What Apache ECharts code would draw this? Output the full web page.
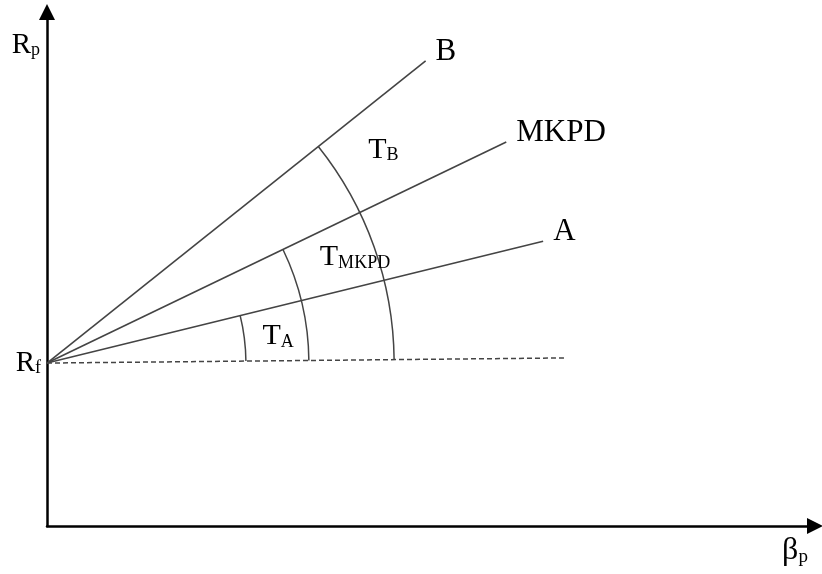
<!DOCTYPE html>
<html>
<head>
<meta charset="utf-8">
<title>Treynor</title>
<script src="https://cdn.jsdelivr.net/npm/echarts@6/dist/echarts.min.js"></script>
<style>
    html, body { margin: 0; padding: 0; background: #fff; }
    #chart { width: 822px; height: 574px; }
</style>
</head>
<body>
<div id="chart"></div>
<script>
// risk free point on the Rp axis
var rfPoint = [0, 3.17];
// portfolio lines, drawn from Rf
var lineNames = ['B', 'MKPD', 'A'];
var lineEndX = [4.93, 5.98, 6.46];
var lineEndY = [9.05, 7.47, 5.54];
// dashed base line
var baseEnd = [6.77, 3.27];
// angle arcs and their labels T_x
var arcNames = ['B', 'MKPD', 'A'];
var arcRadius = [4.52, 3.41, 2.59];
var arcLabelX = [4.38, 4.01, 3.01];
var arcLabelY = [7.32, 5.23, 3.70];

var serif = 'Liberation Serif';
var ink = '#000';
var gray = '#444';

function subRich(big, small) {
    return {
        t: { fontFamily: serif, fontSize: big, color: ink, verticalAlign: 'bottom' },
        s: { fontFamily: serif, fontSize: small, color: ink, verticalAlign: 'bottom' }
    };
}

var series = [];

lineNames.forEach(function (n, i) {
    series.push({
        type: 'line',
        name: n,
        data: [rfPoint, [lineEndX[i], lineEndY[i]]],
        symbol: 'none',
        lineStyle: { color: gray, width: 1.6 },
        endLabel: {
            show: true,
            formatter: n,
            distance: 10,
            offset: [0, -9],
            fontFamily: serif,
            fontSize: 31,
            color: ink
        },
        z: 3
    });
});

series.push({
    type: 'line',
    name: 'base',
    data: [rfPoint, baseEnd],
    symbol: 'none',
    lineStyle: { color: gray, width: 1.5, type: [5, 3] },
    z: 3
});

series.push({
    type: 'custom',
    name: 'arcs',
    data: arcRadius.map(function (r) { return [rfPoint[0], rfPoint[1], r]; }),
    encode: { x: 0, y: 1 },
    renderItem: function (params, api) {
        var i = params.dataIndex;
        var c = api.coord(rfPoint);
        var e = api.coord([lineEndX[i], lineEndY[i]]);
        var b = api.coord(baseEnd);
        var r = api.size([arcRadius[i], 0])[0];
        return {
            type: 'arc',
            shape: {
                cx: c[0], cy: c[1], r: r,
                startAngle: Math.atan2(e[1] - c[1], e[0] - c[0]),
                endAngle: Math.atan2(b[1] - c[1], b[0] - c[0]),
                clockwise: true
            },
            style: { stroke: gray, lineWidth: 1.5, fill: 'none' }
        };
    },
    z: 3
});

series.push({
    type: 'scatter',
    name: 'arcLabels',
    symbolSize: 0,
    itemStyle: { opacity: 1 },
    data: arcNames.map(function (n, i) {
        return { name: n, value: [arcLabelX[i], arcLabelY[i]] };
    }),
    label: {
        show: true,
        position: 'inside',
        color: ink,
        textBorderWidth: 0,
        formatter: function (p) { return '{t|T}{s|' + p.name + '}'; },
        rich: subRich(30, 18)
    },
    z: 4
});

series.push({
    type: 'scatter',
    name: 'rf',
    symbolSize: 0,
    itemStyle: { opacity: 1 },
    data: [rfPoint],
    label: {
        show: true,
        position: 'left',
        distance: 6,
        color: ink,
        textBorderWidth: 0,
        formatter: '{t|R}{s|f}',
        rich: subRich(29, 18)
    },
    z: 4
});

var axisLine = {
    show: true,
    onZero: false,
    symbol: ['none', 'triangle'],
    symbolSize: [16, 16],
    lineStyle: { color: '#000', width: 2.5 }
};

var option = {
    animation: false,
    backgroundColor: '#fff',
    grid: { left: 47, right: 7, top: 12, bottom: 48 },
    xAxis: {
        type: 'value', min: 0, max: 10,
        axisLine: axisLine,
        axisTick: { show: false },
        axisLabel: { show: false },
        splitLine: { show: false },
        name: '{t|β}{s|p}',
        nameLocation: 'end',
        nameGap: -20,
        nameTextStyle: {
            align: 'center',
            verticalAlign: 'top',
            padding: [9, 0, 0, 0],
            rich: subRich(32, 19)
        }
    },
    yAxis: {
        type: 'value', min: 0, max: 10,
        axisLine: axisLine,
        axisTick: { show: false },
        axisLabel: { show: false },
        splitLine: { show: false },
        name: '{t|R}{s|p}',
        nameLocation: 'end',
        nameGap: -33,
        nameTextStyle: {
            align: 'right',
            verticalAlign: 'middle',
            padding: [0, 7, 0, 0],
            rich: subRich(29, 18)
        }
    },
    series: series
};

var chart = echarts.init(document.getElementById('chart'));
chart.setOption(option);
</script>
</body>
</html>
